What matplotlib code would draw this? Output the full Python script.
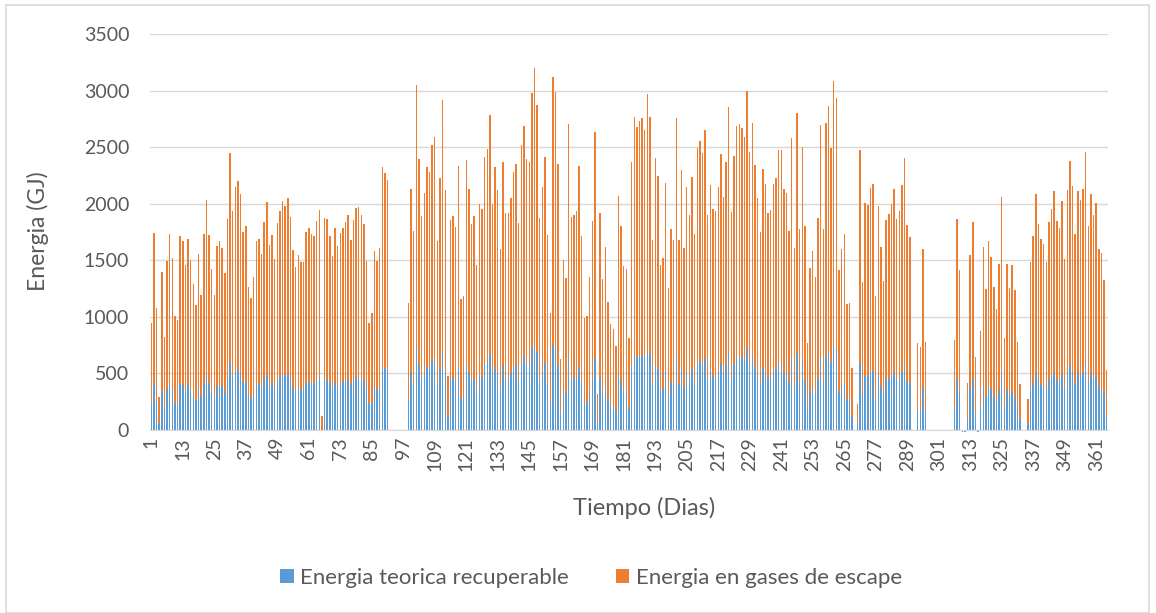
import numpy as np
import matplotlib

matplotlib.use("Agg")
import matplotlib.pyplot as plt
from matplotlib.patches import Rectangle

N_DAYS = 365

# days 1-91
gases_a = [949, 1744, 1078, 289, 1393, 819, 1497, 1732, 1523, 1005,
           969, 1715, 1673, 1455, 1688, 1505, 1290, 1105, 1556, 1193,
           1732, 2033, 1723, 1420, 1193, 1629, 1673, 1610, 1385, 1862,
           2445, 1935, 2145, 2204, 2086, 1753, 1806, 1261, 1170, 1349,
           1673, 1688, 1556, 1841, 2018,
           1635, 1723, 1508, 1832, 1935, 2024, 1983, 2050, 1885,
           1591, 1438, 1547, 1488, 1482, 1753, 1782, 1729, 1718, 1847,
           1944, 124, 1871, 1865, 1718, 1535, 1782, 1629, 1744, 1782,
           1841, 1900, 1679, 1856, 1959, 1968, 1900, 1824, 1497, 949, 1037,
           1585, 1494, 1606, 2327, 2274, 2210]
recup_a = [230, 418, 259, 65, 333, 200, 359, 418, 368, 236,
           233, 407, 401, 348, 407, 359, 309, 265, 374, 289,
           418, 486, 412, 339, 292, 392, 401, 390, 330, 448,
           589, 465, 516, 530, 501, 421, 427, 300, 280, 324,
           401, 407, 374, 448, 486,
           392, 412, 362, 436, 465, 483, 483, 492, 454,
           383, 348, 374, 359, 359, 418, 424, 412, 412, 448,
           465, 0, 454, 448, 412, 368, 424, 392, 412, 427,
           436, 454, 401, 442, 471, 471, 454, 436, 359, 230, 250,
           377, 359, 383, 560, 545, 530]

# days 99-268
gases_b = [1120, 2127, 1759, 3049, 2392, 1891, 2092, 2327, 2277, 2519,
           2592, 1670, 2230, 2917, 2121, 477, 1856, 1891, 1791, 2336,
           1158, 1187, 2386, 2127, 1818, 1891, 1458, 1997, 1950, 2416,
           2486, 2781, 1997, 2321, 2121, 1600, 2369, 1921, 1915, 2053,
           2277, 2348, 1832,
           2516, 2687, 2398, 2366, 2975, 3196, 2872, 1871, 2151, 2416,
           1723, 1031, 3123, 2990, 2348, 630, 1502, 1346, 2704, 1885,
           1900, 1935, 2336, 1715, 993, 1008, 1350, 1847, 2637, 318,
           1921, 1337, 1620, 1128, 937, 893, 742, 2071, 1803, 1449,
           1423, 810, 2372, 2763, 2681, 2734, 2754, 2651, 2970,
           2763, 1679, 2407, 2248, 1458, 1517, 2180, 1252, 1776, 1679,
           2754, 1679, 2298, 1606, 2145, 1900, 2233, 1729, 2495, 2554,
           2445, 2651, 1900, 2165, 1953, 1935, 2145, 2436, 2056, 2366,
           2858, 1924, 2425, 2687, 2701, 2666, 2592, 2996, 2454, 2710,
           2342, 2050, 1747, 2304, 2174, 1915, 1944,
           2174, 2224, 2475, 2475, 2127, 2098, 1762, 2578, 1606, 2805,
           1776, 2504, 1806, 772, 1429, 1585, 1355, 1871, 2693, 1776,
           2716, 2864, 2495, 3087, 2931, 1414, 1600, 1729, 1111, 1126, 551]
recup_b = [265, 516, 418, 737, 574, 457, 501, 560, 545, 610,
           625, 398, 536, 701, 507, 112, 448, 457, 433, 560,
           280, 289, 574, 516, 442, 454, 354, 483, 470, 583,
           604, 672, 486, 560, 507, 383, 572, 463, 463, 501,
           554, 566, 442,
           604, 648, 574, 569, 713, 772, 692, 451, 516, 589,
           412, 250, 751, 716, 566, 147, 359, 324, 648, 451,
           460, 463, 560, 412, 236, 242, 320, 448, 639, 74,
           463, 324, 395, 271, 221, 212, 177, 501, 436, 348,
           339, 197, 569, 666, 648, 657, 663, 642, 707,
           669, 404, 580, 542, 345, 365, 521, 300, 427, 407,
           663, 404, 551, 383, 510, 457, 536, 412, 601, 613,
           586, 636, 457, 521, 471, 465, 516, 589, 501, 572,
           686, 465, 583, 642, 648, 642, 625, 716, 589, 654,
           560, 495, 418, 551, 521, 463, 465,
           524, 536, 595, 595, 507, 501, 424, 625, 383, 678,
           427, 604, 436, 183, 339, 377, 324, 448, 648, 427,
           654, 692, 601, 745, 707, 339, 385, 412, 271, 271, 127]

# days 270-290
gases_c = [230, 2475, 1311, 2003, 1989, 2142, 2171, 1187, 1983, 1620,
           1317, 1856, 1906, 1997, 2127, 1865, 1935, 2165, 2401, 1812, 1709]
recup_c = [53, 595, 315, 480, 480, 516, 524, 286, 480, 389,
           315, 448, 457, 477, 501, 448, 463, 516, 574, 436, 412]

# days 293-296
gases_d = [766, 736, 1603, 778]
recup_d = [183, 171, 383, 183]

# days 307-332
gases_e = [795, 1865, 1414, 0, 0, 418, 1547, 1835, 648, 0,
           875, 1614, 1243, 1670, 1526, 1261, 1066, 1470, 2056, 810,
           1464, 1258, 1458, 1237, 775, 407]
recup_e = [189, 448, 339, -20, -20, 94, 374, 448, 150, -20,
           206, 389, 295, 398, 365, 300, 250, 355, 495, 191,
           354, 309, 348, 295, 183, 94]

# days 335-365
gases_f = [271, 1488, 1715, 2086, 1821, 1688, 1641, 1488, 1835, 1953,
           2115, 1847, 1782, 2027, 1511, 2121, 2377, 2159, 1732, 2115,
           2033, 2127, 2454, 1803, 2086, 1900, 2010, 1600, 1560, 1330, 530]
recup_f = [59, 359, 412, 501, 436, 407, 392, 359, 448, 465,
           507, 442, 427, 483, 368, 507, 569, 516, 412, 507,
           486, 507, 589, 436, 501, 457, 480, 383, 377, 330, 120]

segments = [(1, gases_a, recup_a), (99, gases_b, recup_b), (270, gases_c, recup_c),
            (293, gases_d, recup_d), (307, gases_e, recup_e), (335, gases_f, recup_f)]

gases = np.zeros(N_DAYS)
recup = np.zeros(N_DAYS)
for start, g, r in segments:
    assert len(g) == len(r), start
    gases[start - 1:start - 1 + len(g)] = g
    recup[start - 1:start - 1 + len(r)] = r

BLUE = "#5B9BD5"
ORANGE = "#ED7D31"
TEXT = "#595959"
GRID = "#D9D9D9"

plt.rcParams["font.family"] = ["Lato", "DejaVu Sans"]

W, H = 1156, 613
fig = plt.figure(figsize=(W / 100, H / 100), dpi=100)
ax = fig.add_axes([150 / W, 1 - 430 / H, 958 / W, 396 / H])

x = np.arange(N_DAYS)
bars_g = ax.bar(x, gases, width=0.55, color=ORANGE, linewidth=0)
bars_r = ax.bar(x, recup, width=0.55, color=BLUE, linewidth=0, clip_on=False)

ax.set_xlim(-0.5, N_DAYS - 0.5)
ax.set_ylim(0, 3500)
ax.set_yticks(np.arange(0, 3501, 500))
ax.set_xticks(np.arange(0, N_DAYS, 12))
ax.set_xticklabels([str(i + 1) for i in range(0, N_DAYS, 12)], rotation=90)
ax.tick_params(axis="y", length=0, pad=15, labelsize=14, labelcolor=TEXT)
ax.tick_params(axis="x", length=0, pad=5, labelsize=14, labelcolor=TEXT)

ax.set_axisbelow(True)
ax.yaxis.grid(True, color=GRID, linewidth=1)
for side in ("top", "right", "left"):
    ax.spines[side].set_visible(False)
ax.spines["bottom"].set_color(GRID)

fig.text(38 / W, 1 - 231 / H, "Energia (GJ)", rotation=90, ha="center", va="center",
         fontsize=16.5, color=TEXT)
fig.text(644 / W, 1 - 508 / H, "Tiempo (Dias)", ha="center", va="center",
         fontsize=17, color=TEXT)

fig.legend([bars_r, bars_g], ["Energia teorica recuperable", "Energia en gases de escape"],
           loc="center", bbox_to_anchor=(591 / W, 1 - 578 / H), ncol=2, frameon=False,
           fontsize=16, labelcolor=TEXT, handlelength=0.6, handleheight=0.6,
           handletextpad=0.3, columnspacing=2.1)

fig.add_artist(Rectangle((6 / W, 0), 1143 / W, 1 - 5 / H, transform=fig.transFigure,
                         fill=False, edgecolor=GRID, linewidth=1.2))

fig.savefig("out.png", dpi=100)
